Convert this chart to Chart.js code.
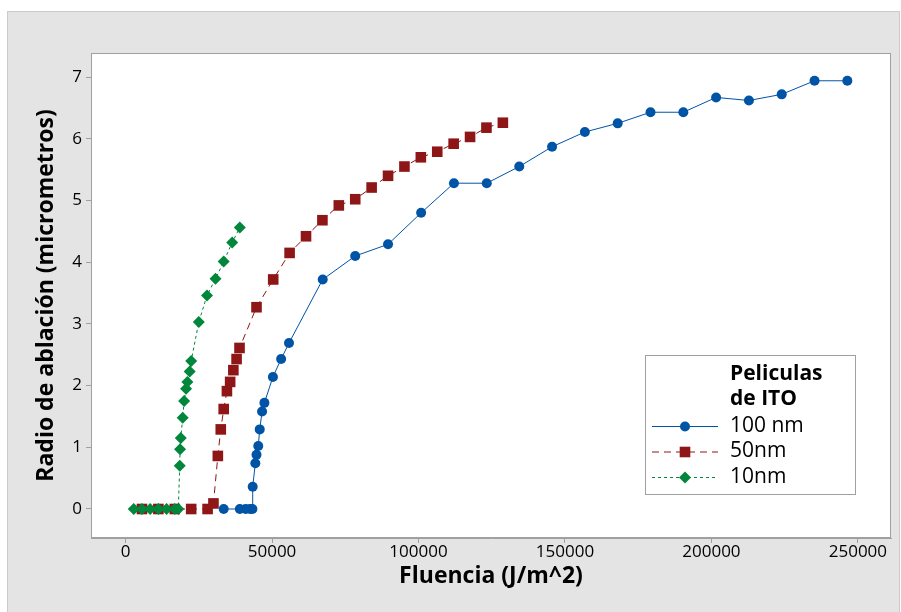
<!DOCTYPE html>
<html lang="es">
<head>
<meta charset="utf-8">
<title>Radio de ablación vs Fluencia</title>
<script src="https://cdn.jsdelivr.net/npm/chart.js@4.4.1/dist/chart.umd.min.js"></script>
<style>
  html, body { margin: 0; padding: 0; background: #fff; }
  #chart { display: block; }
</style>
</head>
<body>
<canvas id="chart" width="901" height="612"></canvas>
<script>
// Datos
const fluencia100 = [33500, 39000, 41000, 42500, 43300, 43400, 44300, 44700, 45300, 45800, 46600, 47400, 50300, 53100, 55800,
    67300, 78400, 89600, 100900, 112100, 123300, 134400, 145600, 156800, 168000, 179200, 190400, 201600, 212800, 224000, 235200, 246400];
const radio100 = [0, 0, 0, 0, 0, 0.36, 0.74, 0.88, 1.02, 1.29, 1.58, 1.72, 2.14, 2.43, 2.69,
    3.72, 4.10, 4.29, 4.80, 5.28, 5.28, 5.55, 5.87, 6.11, 6.25, 6.43, 6.43, 6.67, 6.62, 6.72, 6.94, 6.94];

const fluencia50 = [5600, 11200, 16800, 22400, 28000, 30000, 31500, 32500, 33500, 34600, 35700, 36800, 37900, 38900,
    44700, 50400, 56000, 61600, 67200, 72800, 78400, 84000, 89600, 95200, 100800, 106400, 112000, 117600, 123200, 128800];
const radio50 = [0, 0, 0, 0, 0, 0.09, 0.86, 1.29, 1.62, 1.91, 2.06, 2.25, 2.43, 2.61,
    3.27, 3.72, 4.15, 4.42, 4.68, 4.92, 5.02, 5.21, 5.40, 5.55, 5.70, 5.79, 5.92, 6.03, 6.18, 6.26];

const fluencia10 = [2800, 5600, 8400, 11200, 14000, 16800, 18000, 18500, 18600, 18850, 19500, 20000, 20650, 21100, 21900, 22400,
    25000, 27800, 30700, 33500, 36400, 39000];
const radio10 = [0, 0, 0, 0, 0, 0, 0, 0.70, 0.97, 1.15, 1.48, 1.75, 1.95, 2.06, 2.23, 2.40,
    3.03, 3.46, 3.73, 4.01, 4.32, 4.56];

const seriesLabels = ['100 nm', '50nm', '10nm'];
const legendTitle = ['Peliculas', 'de ITO'];
const xTicks = [0, 50000, 100000, 150000, 200000, 250000];
const yTicks = [0, 1, 2, 3, 4, 5, 6, 7];

const FONT = "'Open Sans', 'Noto Sans', sans-serif";
const GRIS = '#a0a0a0';

function toPoints(xs, ys) {
    return xs.map((x, i) => ({ x: x, y: ys[i] }));
}

// Panel gris de fondo + área blanca
const fondo = {
    id: 'fondo',
    beforeDraw(chart) {
        const ctx = chart.ctx;
        const a = chart.chartArea;
        ctx.save();
        ctx.fillStyle = '#e4e4e4';
        ctx.fillRect(7, 11, chart.width - 8, chart.height - 11);
        ctx.strokeStyle = '#cbcbcb';
        ctx.lineWidth = 1;
        ctx.strokeRect(7.5, 11.5, chart.width - 9, chart.height - 10);
        ctx.fillStyle = '#ffffff';
        ctx.fillRect(a.left, a.top, a.right - a.left, a.bottom - a.top);
        ctx.restore();
    },
    afterDatasetsDraw(chart) {
        const ctx = chart.ctx;
        const a = chart.chartArea;
        ctx.save();
        ctx.strokeStyle = GRIS;
        ctx.lineWidth = 1;
        ctx.strokeRect(Math.round(a.left) + 0.5, Math.round(a.top) + 0.5,
            Math.round(a.right - a.left) - 1, Math.round(a.bottom - a.top) - 1);
        ctx.restore();
    }
};

function marker(ctx, style, x, y, r, color) {
    ctx.fillStyle = color;
    ctx.beginPath();
    if (style === 'circle') {
        ctx.arc(x, y, r, 0, Math.PI * 2);
    } else if (style === 'rect') {
        const s = r * Math.SQRT1_2;
        ctx.rect(x - s, y - s, 2 * s, 2 * s);
    } else {
        ctx.moveTo(x - r, y); ctx.lineTo(x, y - r); ctx.lineTo(x + r, y); ctx.lineTo(x, y + r);
        ctx.closePath();
    }
    ctx.fill();
}

// Leyenda dentro del área del gráfico
const leyenda = {
    id: 'leyenda',
    afterDraw(chart) {
        const ctx = chart.ctx;
        const x0 = 645, y0 = 355, w = 210, h = 139;
        ctx.save();
        ctx.fillStyle = '#ffffff';
        ctx.fillRect(x0, y0, w, h);
        ctx.strokeStyle = GRIS;
        ctx.lineWidth = 1;
        ctx.strokeRect(x0 + 0.5, y0 + 0.5, w, h);

        ctx.fillStyle = '#000';
        ctx.textBaseline = 'middle';
        ctx.font = 'bold 21px ' + FONT;
        ctx.fillText(legendTitle[0], 730, 374);
        ctx.fillText(legendTitle[1], 730, 399);

        ctx.font = '21px ' + FONT;
        chart.data.datasets.forEach((ds, i) => {
            const y = 426 + i * 25.5;
            ctx.strokeStyle = ds.borderColor;
            ctx.lineWidth = 1;
            ctx.setLineDash(ds.borderDash || []);
            ctx.beginPath();
            ctx.moveTo(652, y + 0.5);
            ctx.lineTo(718, y + 0.5);
            ctx.stroke();
            ctx.setLineDash([]);
            marker(ctx, ds.pointStyle, 685, y + 0.5, ds.pointRadius, ds.pointBackgroundColor);
            ctx.fillStyle = '#000';
            ctx.fillText(ds.label, 730, y);
        });
        ctx.restore();
    }
};

const ctx = document.getElementById('chart');

new Chart(ctx, {
    type: 'line',
    data: {
        datasets: [
            {
                label: seriesLabels[0],
                data: toPoints(fluencia100, radio100),
                borderColor: '#0054a6',
                backgroundColor: '#0054a6',
                pointBackgroundColor: '#0054a6',
                pointBorderColor: '#0054a6',
                pointStyle: 'circle',
                pointRadius: 5,
                pointBorderWidth: 0,
                borderWidth: 1,
                order: 3
            },
            {
                label: seriesLabels[1],
                data: toPoints(fluencia50, radio50),
                borderColor: '#8e1616',
                backgroundColor: '#8e1616',
                pointBackgroundColor: '#8e1616',
                pointBorderColor: '#8e1616',
                pointStyle: 'rect',
                pointRadius: 7.5,
                pointBorderWidth: 0,
                borderWidth: 1,
                borderDash: [7, 5],
                order: 2
            },
            {
                label: seriesLabels[2],
                data: toPoints(fluencia10, radio10),
                borderColor: '#00873c',
                backgroundColor: '#00873c',
                pointBackgroundColor: '#00873c',
                pointBorderColor: '#00873c',
                pointStyle: 'rectRot',
                pointRadius: 6,
                pointBorderWidth: 0,
                borderWidth: 1,
                borderDash: [3, 3],
                order: 1
            }
        ]
    },
    options: {
        responsive: false,
        animation: false,
        layout: { padding: { left: 0, top: 53, right: 10, bottom: 0 } },
        plugins: {
            legend: { display: false },
            tooltip: { enabled: false }
        },
        elements: { line: { tension: 0 } },
        scales: {
            x: {
                type: 'linear',
                min: -11800,
                max: 261300,
                afterBuildTicks: axis => { axis.ticks = xTicks.map(v => ({ value: v })); },
                afterFit: axis => { axis.height = 74; },
                border: { display: true, color: GRIS },
                grid: { drawOnChartArea: false, drawTicks: true, tickLength: 5, color: GRIS },
                ticks: {
                    color: '#000',
                    font: { family: FONT, size: 17 },
                    padding: -1,
                    maxRotation: 0,
                    callback: v => String(v)
                },
                title: {
                    display: true,
                    text: 'Fluencia (J/m^2)',
                    color: '#000',
                    font: { family: FONT, size: 23, weight: 'bold' },
                    padding: { top: 0, bottom: 22 }
                }
            },
            y: {
                type: 'linear',
                min: -0.47,
                max: 7.39,
                afterBuildTicks: axis => { axis.ticks = yTicks.map(v => ({ value: v })); },
                afterFit: axis => { axis.width = 91; },
                border: { display: true, color: GRIS },
                grid: { drawOnChartArea: false, drawTicks: true, tickLength: 5, color: GRIS },
                ticks: {
                    color: '#000',
                    font: { family: FONT, size: 17 },
                    padding: 4,
                    callback: v => String(v)
                },
                title: {
                    display: true,
                    text: 'Radio de ablación (micrometros)',
                    color: '#000',
                    font: { family: FONT, size: 23, weight: 'bold' },
                    padding: { top: 33, bottom: 0 }
                }
            }
        }
    },
    plugins: [fondo, leyenda]
});
</script>
</body>
</html>
